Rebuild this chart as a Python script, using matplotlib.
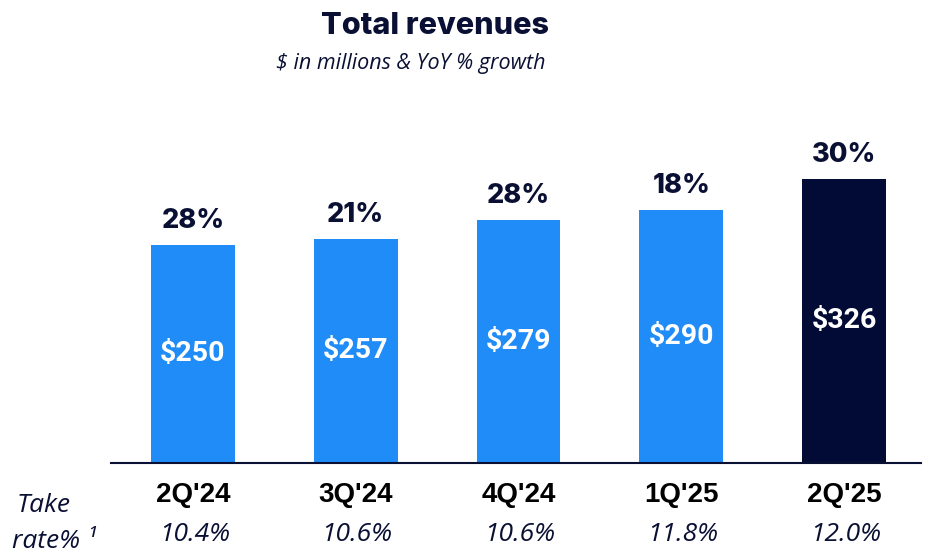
import matplotlib
matplotlib.use("Agg")
import matplotlib.pyplot as plt

quarters = ["2Q'24", "3Q'24", "4Q'24", "1Q'25", "2Q'25"]
revenues = [250, 257, 279, 290, 326]
yoy_growth = ["28%", "21%", "28%", "18%", "30%"]
take_rates = ["10.4%", "10.6%", "10.6%", "11.8%", "12.0%"]

navy = "#0A1033"
blue = "#1F8CF8"
dark = "#020B35"
bar_colors = [blue, blue, blue, blue, dark]

W, H = 934, 558
fig = plt.figure(figsize=(W / 100, H / 100), dpi=100)

# axes placed in pixel terms: left 111, right 921, baseline at 463
ax = fig.add_axes([111 / W, (H - 463) / H, 810 / W, 363 / H])
ax.set_xlim(-0.503, 4.472)
ax.set_ylim(0, 363 / 0.872)

x = list(range(len(quarters)))
bars = ax.bar(x, revenues, width=0.515, color=bar_colors)

for xi, v, g in zip(x, revenues, yoy_growth):
    ax.text(xi, v / 2, f"${v}", ha="center", va="center", color="white",
            fontsize=20.5, fontweight="bold", family="Roboto")
    ax.annotate(g, (xi, v), xytext=(0, 8), textcoords="offset points",
                ha="center", va="bottom", color=navy, fontsize=19.5,
                fontweight=800, family="Inter")

for s in ["top", "right", "left"]:
    ax.spines[s].set_visible(False)
ax.spines["bottom"].set_color(navy)
ax.spines["bottom"].set_linewidth(1.5)
ax.set_yticks([])
ax.set_xticks(x)
ax.set_xticklabels([])
ax.tick_params(axis="x", length=0)

for xi, q, t in zip(x, quarters, take_rates):
    ax.annotate(q, (xi, 0), xytext=(0, -32 / 1.389), textcoords="offset points",
                ha="center", va="center", color="black", fontsize=20,
                fontweight="bold", family="Liberation Sans")
    ax.annotate(t, (xi, 0), xytext=(1, -72 / 1.389), textcoords="offset points",
                ha="center", va="center", color=navy, fontsize=19,
                style="italic", family="Open Sans")

fig.text(44 / W, 1 - 505 / H, "Take", ha="center", va="center", color=navy,
         fontsize=19, style="italic", family="Open Sans")
fig.text(12 / W, 1 - 541 / H, "rate% \u00b9", ha="left", va="center", color=navy,
         fontsize=19, style="italic", family="Open Sans")

fig.text(435 / W, 1 - 26 / H, "Total revenues", ha="center", va="center",
         color=navy, fontsize=22, fontweight=800, family="Inter")
fig.text(545 / W, 1 - 63 / H, "$ in millions & YoY % growth", ha="right",
         va="center", color=navy, fontsize=15.5, style="italic", family="Open Sans")

fig.savefig("out.png", dpi=100)
